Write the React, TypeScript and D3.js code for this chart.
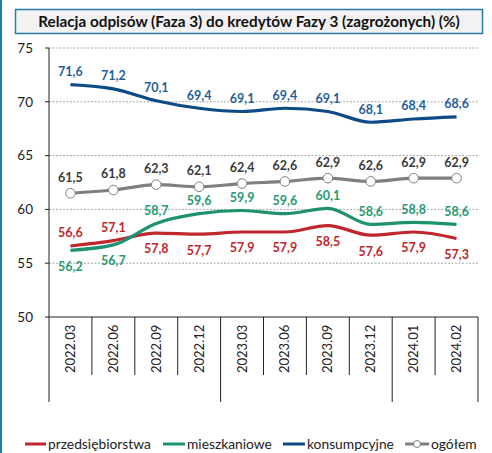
import React from "react";
import * as d3 from "d3";

const categories = ["2022.03", "2022.06", "2022.09", "2022.12", "2023.03", "2023.06", "2023.09", "2023.12", "2024.01", "2024.02"];
const groups = [
  { from: 0, to: 4 },
  { from: 4, to: 8 },
  { from: 8, to: 10 },
];
const przedsiebiorstwa = [56.6, 57.1, 57.8, 57.7, 57.9, 57.9, 58.5, 57.6, 57.9, 57.3];
const mieszkaniowe = [56.2, 56.7, 58.7, 59.6, 59.9, 59.6, 60.1, 58.6, 58.8, 58.6];
const konsumpcyjne = [71.6, 71.2, 70.1, 69.4, 69.1, 69.4, 69.1, 68.1, 68.4, 68.6];
const ogolem = [61.5, 61.8, 62.3, 62.1, 62.4, 62.6, 62.9, 62.6, 62.9, 62.9];
const yTicks = [50, 55, 60, 65, 70, 75];

const W = 492;
const H = 453;
const FONT = "Lato, 'Open Sans', sans-serif";

const series = [
  { name: "przedsiębiorstwa", values: przedsiebiorstwa, color: "#c0272d", label: "#c0272d", below: (i: number) => i >= 2, marker: false },
  { name: "mieszkaniowe", values: mieszkaniowe, color: "#1e9270", label: "#279a72", below: (i: number) => i < 2, marker: false },
  { name: "konsumpcyjne", values: konsumpcyjne, color: "#0d4a86", label: "#1f5f9c", below: () => false, marker: false },
  { name: "ogółem", values: ogolem, color: "#7f7f7f", label: "#3a3a3a", below: () => false, marker: true },
];

const fmt = (v: number) => v.toFixed(1).replace(".", ",");

export default function App() {
  const left = 49, right = 478, top = 48, bottom = 317;
  const x = d3.scaleBand<string>().domain(categories).range([left, right]);
  const y = d3.scaleLinear().domain([50, 75]).range([bottom, top]);
  const cx = (i: number) => (x(categories[i]) ?? 0) + x.bandwidth() / 2;
  const line = d3.line<number>().x((_, i) => cx(i)).y(d => y(d)).curve(d3.curveMonotoneX);

  const legendItems = [
    { x: 25, textX: 48 },
    { x: 163, textX: 187 },
    { x: 283, textX: 307 },
    { x: 405, textX: 431 },
  ];

  return (
    <div style={{ position: "absolute", left: 0, top: 0 }}>
      <svg width={W} height={H} style={{ display: "block", background: "#fff" }}>
        <rect x={0} y={0} width={2} height={H} fill="#1a7fb0" />
        <rect x={15.5} y={9.5} width={467} height={24} fill="#f2f2f2" stroke="#2a7aa6" strokeWidth={1.5} />
        <text x={249} y={26.5} textAnchor="middle" fontFamily={FONT} fontWeight="bold" fontSize={15.3} fill="#111">
          Relacja odpisów (Faza 3) do kredytów Fazy 3 (zagrożonych) (%)
        </text>

        {yTicks.map(t => (
          <g key={t}>
            {t > 50 && (
              <line x1={left} x2={right} y1={y(t)} y2={y(t)} stroke="#a6a6a6" strokeWidth={1} strokeDasharray="2,1.5" />
            )}
            <line x1={left - 4} x2={left} y1={y(t)} y2={y(t)} stroke="#222" />
            <text x={33} y={y(t)} dy="0.35em" textAnchor="end" fontFamily={FONT} fontSize={13.5} fill="#222">{t}</text>
          </g>
        ))}
        <line x1={left} x2={left} y1={top} y2={bottom} stroke="#222" />
        <line x1={left} x2={right} y1={bottom} y2={bottom} stroke="#222" />

        {categories.map((c, i) => {
          const isGroupEdge = groups.some(g => g.from === i);
          return (
            <line key={"t" + c} x1={x(c)} x2={x(c)} y1={bottom} y2={isGroupEdge ? 402 : 375} stroke="#222" />
          );
        })}
        <line x1={right} x2={right} y1={bottom} y2={402} stroke="#222" />
        {categories.map((c, i) => (
          <text key={"l" + c} transform={`translate(${cx(i) + 4.5},373) rotate(-90)`} textAnchor="start"
            fontFamily={FONT} fontSize={13} fill="#222">{c}</text>
        ))}

        {series.map(s => (
          <path key={s.name} d={line(s.values) ?? ""} fill="none" stroke={s.color} strokeWidth={3.2} strokeLinejoin="round" />
        ))}
        {ogolem.map((v, i) => (
          <circle key={"m" + i} cx={cx(i)} cy={y(v)} r={4.8} fill="#fff" stroke="#7f7f7f" strokeWidth={1} />
        ))}

        {series.map(s =>
          s.values.map((v, i) => {
            const below = s.below(i);
            const off = s.marker ? -16 : below ? 16 : -13;
            return (
              <text key={s.name + i} x={cx(i)} y={y(v) + off} dy="0.35em" textAnchor="middle"
                fontFamily={FONT} fontWeight="bold" fontSize={12.5} fill={s.label}>{fmt(v)}</text>
            );
          })
        )}

        {series.map((s, k) => {
          const it = legendItems[k];
          return (
            <g key={"lg" + s.name}>
              <line x1={it.x} x2={it.textX - 2} y1={444} y2={444} stroke={s.color} strokeWidth={3} />
              {s.marker && <circle cx={(it.x + it.textX - 2) / 2} cy={444} r={3.5} fill="#fff" stroke="#7f7f7f" />}
              <text x={it.textX} y={444} dy="0.35em" fontFamily={FONT} fontSize={13.8} fill="#222">{s.name}</text>
            </g>
          );
        })}
      </svg>
    </div>
  );
}
